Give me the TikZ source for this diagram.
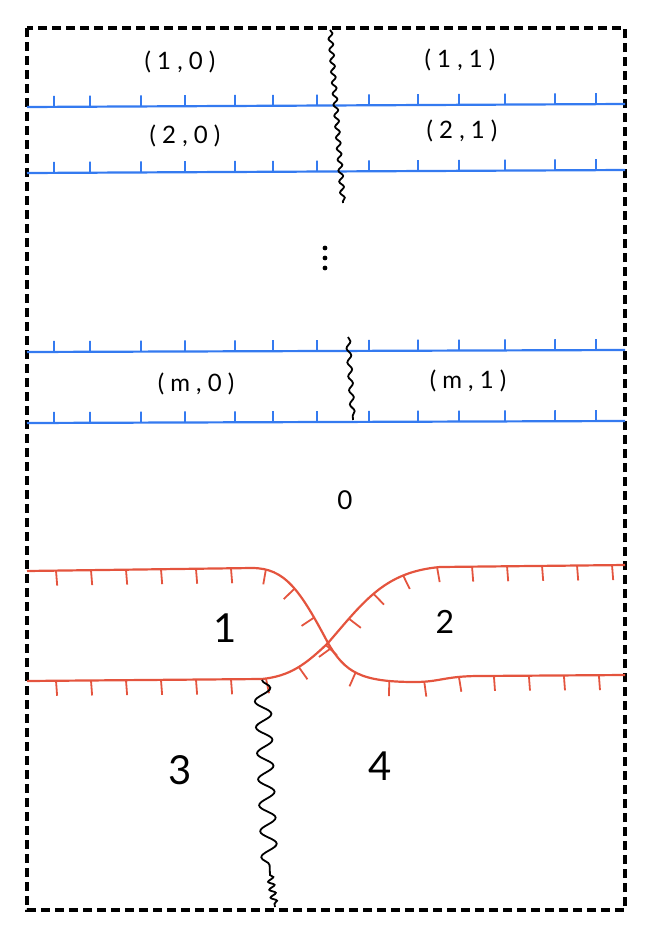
\documentclass[tikz,border=0pt]{standalone}
\usepackage{fontspec}
\setmainfont{Lato}
\usetikzlibrary{decorations.markings,decorations.pathmorphing}
\definecolor{bl}{RGB}{52,122,240}
\definecolor{rd}{RGB}{228,84,62}
\newcommand\bltick{\draw[bl,line width=1.8pt] (0pt,0pt) -- (0pt,11pt);}
\tikzset{
  frame/.style={line width=3.6pt, dash pattern=on 9pt off 5pt},
  blueline/.style={bl, line width=2.2pt},
  redline/.style={rd, line width=2.2pt},
  bticks/.style={postaction={decorate, decoration={markings,
    mark=at position 27pt with {\bltick},
    mark=at position 63pt with {\bltick},
    mark=at position 114pt with {\bltick},
    mark=at position 158pt with {\bltick},
    mark=at position 208pt with {\bltick},
    mark=at position 246pt with {\bltick},
    mark=at position 290pt with {\bltick},
    mark=at position 342pt with {\bltick},
    mark=at position 391pt with {\bltick},
    mark=at position 432pt with {\bltick},
    mark=at position 478pt with {\bltick},
    mark=at position 528pt with {\bltick},
    mark=at position 569pt with {\bltick}}}},
  rticks/.style={postaction={decorate, decoration={markings,
    mark=between positions 29pt and 0.99 step 35pt with
      {\draw[rd,line width=1.8pt] (0pt,0pt) -- (1pt,-15pt);}}}},
  wavy/.style={black, line width=1.8pt},
  lab/.style={font=\fontsize{24}{28}\selectfont, inner sep=0pt},
  big/.style={font=\fontsize{40}{44}\selectfont, inner sep=0pt}
}
\begin{document}
\begin{tikzpicture}[x=1pt,y=-1pt]
\useasboundingbox (0,0) rectangle (649,929);
% frame
\coordinate (fTL) at (27,28);
\coordinate (fBR) at (625,910);
\draw[frame] (fTL) rectangle (fBR);
% blue lines
\coordinate (b1l) at (27,107); \coordinate (b1r) at (625,104);
\coordinate (b2l) at (27,173); \coordinate (b2r) at (625,170);
\coordinate (b3l) at (27,352); \coordinate (b3r) at (625,350);
\coordinate (b4l) at (27,423); \coordinate (b4r) at (625,421);
\draw[blueline,bticks] (b1l) -- (b1r);
\draw[blueline,bticks] (b2l) -- (b2r);
\draw[blueline,bticks] (b3l) -- (b3r);
\draw[blueline,bticks] (b4l) -- (b4r);
% labels
\node[lab] (l10) at (180,62) {( 1 , 0 )};
\node[lab] (l11) at (460,60) {( 1 , 1 )};
\node[lab] (l20) at (185,136) {( 2 , 0 )};
\node[lab] (l21) at (462,131) {( 2 , 1 )};
\node[lab] (lm0) at (196,384) {( m , 0 )};
\node[lab] (lm1) at (468,381) {( m , 1 )};
% dots
\fill (325,248) circle (2.4pt);
\fill (325,258) circle (2.4pt);
\fill (325,268) circle (2.4pt);
% wavy lines top
\coordinate (w1a) at (330,30); \coordinate (w1b) at (343,203);
\draw[wavy, decorate, decoration={snake, segment length=11pt, amplitude=2.2pt}] (w1a) -- (w1b);
\coordinate (w2a) at (348,337); \coordinate (w2b) at (353,420);
\draw[wavy, decorate, decoration={snake, segment length=14pt, amplitude=2.2pt}] (w2a) -- (w2b);
% region labels
\node[font=\fontsize{26}{30}\selectfont, inner sep=0pt] (r0) at (345,500) {0};
\node[big] (r1) at (225,628) {1};
\node[font=\fontsize{32}{36}\selectfont, inner sep=0pt] (r2) at (445,622) {2};
\node[big] (r3) at (180,770) {3};
\node[big] (r4) at (380,766) {4};
% red curves
\coordinate (aL) at (27,571); \coordinate (aR) at (625,675);
\coordinate (bL) at (27,681); \coordinate (bR) at (625,565);
\coordinate (x) at (328,643);
\draw[redline,rticks] (aL) -- (252,568)
  .. controls (285,568) and (300,590) .. (x)
  .. controls (345,672) and (360,682) .. (415,682)
  .. controls (440,682) and (445,676) .. (480,676) -- (aR);
\draw[redline,rticks] (bL) -- (262,679)
  .. controls (290,676) and (305,665) .. (x)
  .. controls (365,600) and (385,572) .. (440,567) -- (bR);
% bottom wavy
\coordinate (w3a) at (262,680); \coordinate (w3m) at (270,875); \coordinate (w3b) at (275,907);
\draw[wavy] (w3a) decorate[decoration={snake, segment length=26pt, amplitude=8pt}]{-- (w3m)}
  decorate[decoration={snake, segment length=8pt, amplitude=3pt}]{-- (w3b)};
\end{tikzpicture}
\end{document}
